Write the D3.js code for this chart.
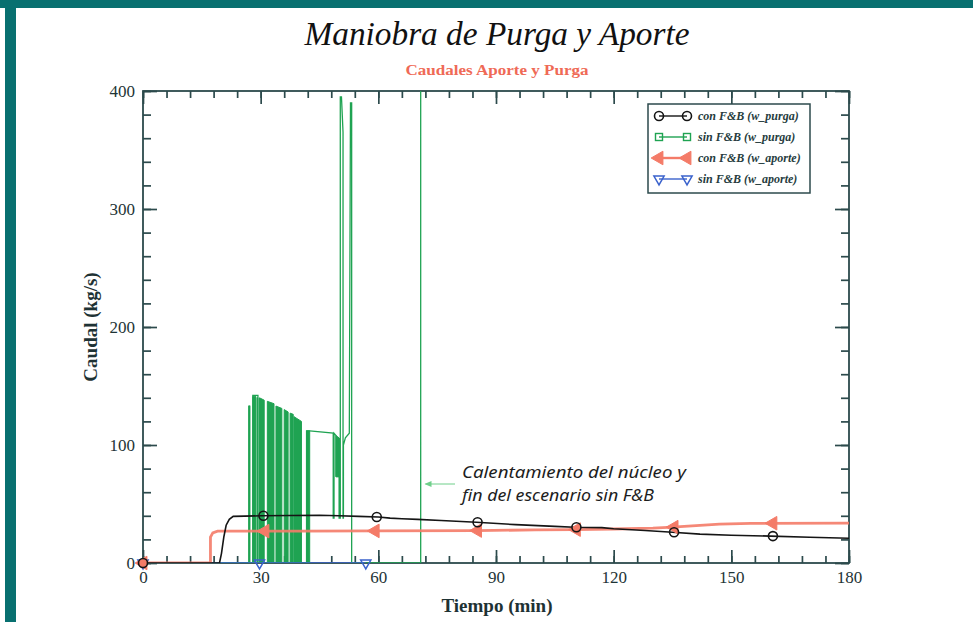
<!DOCTYPE html>
<html>
<head>
<meta charset="utf-8">
<script src="https://cdn.jsdelivr.net/npm/d3@7"></script>
<style>
  body { margin: 0; background: #fff; }
  svg { display: block; }
</style>
</head>
<body>
<svg id="chart"></svg>
<script>
// data (t in min, caudal in kg/s)
var x_ticks = [0, 30, 60, 90, 120, 150, 180];
var y_ticks = [0, 100, 200, 300, 400];

// con F&B (w_purga)
var purga_con = [[0,0],[19.5,0],[20,8],[20.6,22],[21.2,32],[22,37],[23,39.5],[30,40],[45,40.5],[50,40],[55,39.5],[60,39],[63,38],[66,37.5],[70,37],[76,36],[85,34.5],[95,32.5],[105,31],[110,30.3],[117,30],[120,29],[128,27.5],[135,26],[142,24.5],[150,23.5],[160,22.8],[170,21.8],[180,21]];
var purga_con_marks = [[0,0],[30.7,40],[59.6,39],[85.3,34.5],[110.5,30.3],[135.4,26],[160.6,22.8]];

// sin F&B (w_purga) : bursts of oscillation [t0, t1, low, high0, high1]
var purga_sin_bursts = [[27.0,27.2,0,133,133],[28.0,28.8,0,141,141],[29.1,29.3,0,140,140],[29.7,30.9,0,140,138],[31.7,33.4,0,137,135],[33.9,35.4,0,133,131],[36.0,37.0,0,130,128],[37.5,38.3,0,127,126],[38.5,40.4,0,124,120],[41.7,42.5,0,112,112],[49.2,50.0,73,108,106]];
var purga_sin = [[0,0],[27,0],[27,133],[27.2,133],[27.2,0],[28,0],[28,142],[29.3,142],[29.3,0],[40.4,0],[41.7,0],[41.7,112],[42.5,112],[48.5,110],[48.5,38],[48.7,38],[48.7,110],[49.2,108],[49.2,73],[49.6,100],[49.6,73],[50.0,106],[50.0,38],[50.3,38],[50.3,395],[50.6,395],[51.0,365],[51.0,38],[51.1,38],[51.1,100],[51.6,106],[52.6,110],[52.9,390],[53.2,390],[53.2,0],[70.8,0],[70.8,430]];

// con F&B (w_aporte)
var aporte_con = [[0,0],[17.2,0],[17.2,22],[17.8,25.5],[19,27],[40,27],[60,27.2],[85,27.5],[100,28],[110,28.3],[120,28.8],[130,29.6],[135,30.4],[140,31.5],[147,33],[155,33.6],[180,33.8]];
var aporte_con_marks = [[0,0],[31.1,27],[59.2,27.2],[85.3,27.5],[110.5,28.3],[135.4,30.4],[160.6,33.7]];

// sin F&B (w_aporte)
var aporte_sin = [[0,0],[56.8,0]];
var aporte_sin_marks = [[0,0],[29.7,0],[56.8,0]];

var legend_labels = ['con F&B (w_purga)', 'sin F&B (w_purga)', 'con F&B (w_aporte)', 'sin F&B (w_aporte)'];

var svg_width = 973, svg_height = 622;
var plot_left = 143, plot_right = 849, plot_top = 91, plot_bottom = 563;

var c_axis = '#2c4a4c', c_black = '#151515', c_green = '#1fa352', c_red = '#f47b68', c_blue = '#3a62cc';

var svg = d3.select('#chart').attr('width', svg_width).attr('height', svg_height);

// teal frame of the slide
svg.append('rect').attr('x', 0).attr('y', 0).attr('width', svg_width).attr('height', 8).attr('fill', '#087070');
svg.append('rect').attr('x', 5).attr('y', 0).attr('width', 11).attr('height', svg_height).attr('fill', '#087070');

var x = d3.scaleLinear().domain([0, 180]).range([plot_left, plot_right]);
var y = d3.scaleLinear().domain([0, 400]).range([plot_bottom, plot_top]);

// titles
svg.append('text').attr('x', 497).attr('y', 45).attr('text-anchor', 'middle')
  .attr('font-family', 'Liberation Serif, serif').attr('font-style', 'italic').attr('font-size', 33)
  .attr('textLength', 385).attr('lengthAdjust', 'spacingAndGlyphs').attr('fill', '#111')
  .text('Maniobra de Purga y Aporte');
svg.append('text').attr('x', 497).attr('y', 75).attr('text-anchor', 'middle')
  .attr('font-family', 'Liberation Serif, serif').attr('font-weight', 'bold').attr('font-size', 15)
  .attr('textLength', 183).attr('lengthAdjust', 'spacingAndGlyphs').attr('fill', '#ef6a56')
  .text('Caudales Aporte y Purga');

// axes with inside ticks on all four sides
function add_axis(axis_fn, scale, values, size, tx, ty, labels) {
  var a = axis_fn(scale).tickValues(values).tickSize(size).tickPadding(labels ? 8 : 0);
  if (!labels) a.tickFormat('');
  var g = svg.append('g').attr('transform', 'translate(' + tx + ',' + ty + ')').call(a);
  g.select('.domain').remove();
  g.selectAll('line').attr('stroke', c_axis).attr('stroke-width', 1.7);
  g.selectAll('text').attr('fill', '#1e3436').attr('font-family', 'Liberation Serif, serif').attr('font-size', 17);
  return g;
}
var x_minor = d3.range(0, 181, 6), y_minor = d3.range(0, 401, 20);
add_axis(d3.axisBottom, x, x_minor, -7, 0, plot_bottom, false);
add_axis(d3.axisBottom, x, x_ticks, -13, 0, plot_bottom, true);
add_axis(d3.axisTop, x, x_minor, -7, 0, plot_top, false);
add_axis(d3.axisTop, x, x_ticks, -13, 0, plot_top, false);
add_axis(d3.axisLeft, y, y_minor, -8, plot_left, 0, false);
add_axis(d3.axisLeft, y, y_ticks, -14, plot_left, 0, true);
add_axis(d3.axisRight, y, y_minor, -8, plot_right, 0, false);
add_axis(d3.axisRight, y, y_ticks, -14, plot_right, 0, false);

// plot frame
svg.append('rect').attr('x', plot_left).attr('y', plot_top)
  .attr('width', plot_right - plot_left).attr('height', plot_bottom - plot_top)
  .attr('fill', 'none').attr('stroke', c_axis).attr('stroke-width', 1.8);

// axis titles
svg.append('text').attr('x', 497).attr('y', 612).attr('text-anchor', 'middle')
  .attr('font-family', 'Liberation Serif, serif').attr('font-weight', 'bold').attr('font-size', 19)
  .attr('fill', '#1e3234').text('Tiempo (min)');
svg.append('text').attr('transform', 'translate(97,' + 327 + ') rotate(-90)').attr('text-anchor', 'middle')
  .attr('font-family', 'Liberation Serif, serif').attr('font-weight', 'bold').attr('font-size', 19)
  .attr('fill', '#1e3234').text('Caudal (kg/s)');

// data
svg.append('clipPath').attr('id', 'plot-clip').append('rect')
  .attr('x', plot_left).attr('y', plot_top).attr('width', plot_right - plot_left).attr('height', plot_bottom - plot_top);
var group = svg.append('g').attr('clip-path', 'url(#plot-clip)');

var line = d3.line().x(function(d) { return x(d[0]); }).y(function(d) { return y(d[1]); });

group.selectAll('.burst').data(purga_sin_bursts).enter().append('path')
  .attr('class', 'burst')
  .attr('d', function(d) {
    return 'M' + x(d[0]) + ',' + y(d[2]) + 'L' + x(d[0]) + ',' + y(d[3]) +
      'L' + x(d[1]) + ',' + y(d[4]) + 'L' + x(d[1]) + ',' + y(d[2]) + 'Z';
  })
  .attr('fill', c_green).attr('stroke', c_green).attr('stroke-width', 1);
group.append('path').attr('d', line(purga_sin)).attr('fill', 'none').attr('stroke', c_green).attr('stroke-width', 1.3);

group.append('path').attr('d', line(aporte_sin)).attr('fill', 'none').attr('stroke', c_blue).attr('stroke-width', 1.5);
group.append('path').attr('d', line(aporte_con)).attr('fill', 'none').attr('stroke', c_red).attr('stroke-width', 2.8).attr('stroke-opacity', 0.9);
group.append('path').attr('d', line(purga_con)).attr('fill', 'none').attr('stroke', c_black).attr('stroke-width', 1.6);

// markers
var tri_left = d3.symbol().type(d3.symbolTriangle).size(80);
var tri_down = d3.symbol().type(d3.symbolTriangle).size(45);

function draw_marker(sel, kind) {
  if (kind === 0) {
    sel.append('circle').attr('r', 4.5).attr('fill', 'none').attr('stroke', c_black).attr('stroke-width', 1.6);
  } else if (kind === 1) {
    sel.append('rect').attr('x', -3.5).attr('y', -3.5).attr('width', 7).attr('height', 7)
      .attr('fill', 'none').attr('stroke', c_green).attr('stroke-width', 1.4);
  } else if (kind === 2) {
    sel.append('path').attr('d', tri_left()).attr('transform', 'rotate(-90)').attr('fill', c_red).attr('stroke', c_red);
  } else {
    sel.append('path').attr('d', tri_down()).attr('transform', 'rotate(180)').attr('fill', 'none')
      .attr('stroke', c_blue).attr('stroke-width', 1.5);
  }
}

[[aporte_sin_marks, 3], [aporte_con_marks, 2], [purga_con_marks, 0]].forEach(function(m) {
  svg.append('g').selectAll('g').data(m[0]).enter().append('g')
    .attr('transform', function(d) { return 'translate(' + x(d[0]) + ',' + y(d[1]) + ')'; })
    .each(function() { draw_marker(d3.select(this), m[1]); });
});

// annotation
var note = svg.append('g').attr('font-family', 'Noto Sans, sans-serif').attr('font-style', 'italic')
  .attr('font-size', 16).attr('fill', '#1d1d1d');
note.append('text').attr('x', 462).attr('y', 478).attr('textLength', 224).attr('lengthAdjust', 'spacingAndGlyphs')
  .text('Calentamiento del núcleo y');
note.append('text').attr('x', 462).attr('y', 501).attr('textLength', 192).attr('lengthAdjust', 'spacingAndGlyphs')
  .text('fin del escenario sin F&B');
svg.append('line').attr('x1', x(71) + 4).attr('y1', 484).attr('x2', 455).attr('y2', 484)
  .attr('stroke', '#6fcf8a').attr('stroke-width', 1);
svg.append('path').attr('d', 'M' + (x(71) + 3) + ',484 l7,-3 l0,6 Z').attr('fill', '#6fcf8a');

// legend
var legend = svg.append('g');
legend.append('rect').attr('x', 648).attr('y', 104).attr('width', 162).attr('height', 89)
  .attr('fill', '#fff').attr('stroke', c_axis).attr('stroke-width', 1.5);
var legend_colors = [c_black, c_green, c_red, c_blue];
legend_labels.forEach(function(label, i) {
  var ly = 116 + i * 21;
  legend.append('line').attr('x1', 659).attr('x2', 687).attr('y1', ly).attr('y2', ly)
    .attr('stroke', legend_colors[i]).attr('stroke-width', i === 2 ? 2.4 : 1.4);
  [659, 687].forEach(function(lx) {
    draw_marker(legend.append('g').attr('transform', 'translate(' + lx + ',' + ly + ')'), i);
  });
  legend.append('text').attr('x', 698).attr('y', ly + 4)
    .attr('font-family', 'Liberation Serif, serif').attr('font-style', 'italic').attr('font-weight', 'bold')
    .attr('font-size', 12).attr('fill', '#263c3e').text(label);
});
</script>
</body>
</html>
